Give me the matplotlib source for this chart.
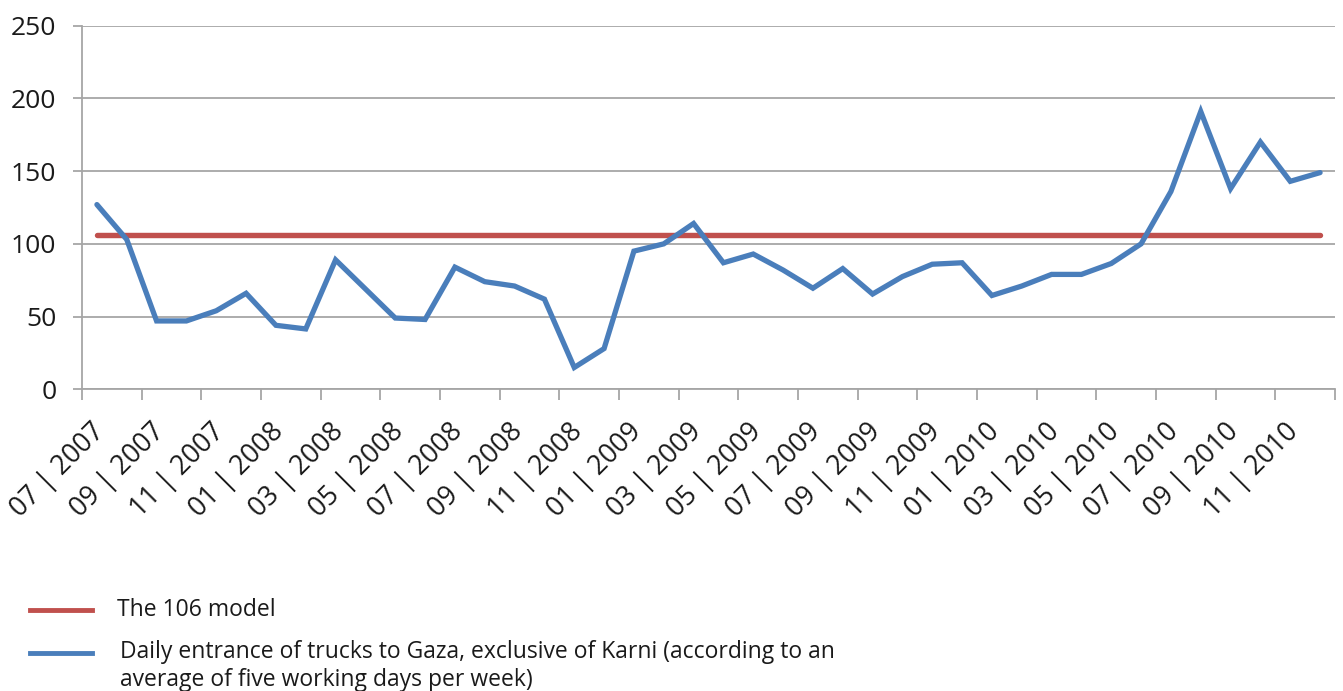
import matplotlib
matplotlib.use("Agg")
import matplotlib.pyplot as plt
import matplotlib.transforms as mtransforms
from matplotlib.lines import Line2D

plt.rcParams['font.family'] = ['Open Sans', 'DejaVu Sans']

months = ["07 | 2007", "08 | 2007", "09 | 2007", "10 | 2007", "11 | 2007", "12 | 2007",
          "01 | 2008", "02 | 2008", "03 | 2008", "04 | 2008", "05 | 2008", "06 | 2008",
          "07 | 2008", "08 | 2008", "09 | 2008", "10 | 2008", "11 | 2008", "12 | 2008",
          "01 | 2009", "02 | 2009", "03 | 2009", "04 | 2009", "05 | 2009", "06 | 2009",
          "07 | 2009", "08 | 2009", "09 | 2009", "10 | 2009", "11 | 2009", "12 | 2009",
          "01 | 2010", "02 | 2010", "03 | 2010", "04 | 2010", "05 | 2010", "06 | 2010",
          "07 | 2010", "08 | 2010", "09 | 2010", "10 | 2010", "11 | 2010", "12 | 2010"]

trucks = [127, 103, 47, 47, 54, 66, 44, 41.5, 89, 69, 49, 48,
          84, 74, 71, 62, 15, 28, 95, 100, 114, 87, 93, 82,
          69.5, 83, 65.5, 77.5, 86, 87, 64.5, 71, 79, 79, 86.5, 100,
          136, 191, 138, 170, 143, 149]

model_value = 106
model = [model_value] * len(months)

y_ticks = [0, 50, 100, 150, 200, 250]

model_label = "The 106 model"
trucks_label = ("Daily entrance of trucks to Gaza, exclusive of Karni (according to an\n"
                "average of five working days per week)")

blue = "#4A7EBB"
red = "#C0504D"
grid_c = "#A6A6A6"
text_c = "#1a1a1a"

W, H = 1343, 691
fig = plt.figure(figsize=(W / 100, H / 100), dpi=100)
ax = fig.add_axes([82 / W, (H - 389.3) / H, (1335 - 82) / W, (389.3 - 25.7) / H])

x = list(range(len(months)))
l_model, = ax.plot(x, model, color=red, lw=3.9, solid_capstyle='round', zorder=3)
l_trucks, = ax.plot(x, trucks, color=blue, lw=3.8, solid_capstyle='round',
                    solid_joinstyle='miter', zorder=4)

ax.set_xlim(-0.5, len(months) - 0.5)
ax.set_ylim(0, 250)
ax.set_yticks(y_ticks)
ax.set_yticklabels([str(v) for v in y_ticks])
ax.grid(axis='y', color=grid_c, lw=1.3, zorder=1)
ax.set_axisbelow(True)

for s in ['top', 'right']:
    ax.spines[s].set_visible(False)
for s in ['left', 'bottom']:
    ax.spines[s].set_color(grid_c)
    ax.spines[s].set_linewidth(1.3)

# major ticks: category boundaries every two months
ax.set_xticks([i - 0.5 for i in range(0, len(months) + 1, 2)])
ax.set_xticklabels([])
ax.tick_params(axis='x', which='major', length=8, width=1.3, color=grid_c)
# minor ticks: labels at category centers
ax.set_xticks(x[::2], minor=True)
ax.set_xticklabels(months[::2], minor=True, rotation=45, ha='right',
                   rotation_mode='anchor', fontsize=19.3, color=text_c)
ax.tick_params(axis='x', which='minor', length=0, pad=20.5)
ax.tick_params(axis='y', length=6.5, width=1.3, color=grid_c, labelsize=19,
               labelcolor=text_c, pad=12)

shift = mtransforms.ScaledTranslation(-6 / 100, 0, fig.dpi_scale_trans)
for lbl in ax.get_xticklabels(minor=True):
    lbl.set_va('top')
    lbl.set_transform(lbl.get_transform() + shift)

# legend (drawn in figure pixel coordinates)
def fx(px):
    return px / W

def fy(py):
    return 1 - py / H

for line, ypix in [(l_model, 610), (l_trucks, 653)]:
    fig.add_artist(Line2D([fx(30), fx(92)], [fy(ypix), fy(ypix)],
                          color=line.get_color(), lw=3.5, transform=fig.transFigure))
fig.text(fx(117), fy(610), model_label, fontsize=16.5, color=text_c,
         ha='left', va='center')
fig.text(fx(120), fy(640), trucks_label, fontsize=16.5, color=text_c,
         ha='left', va='top', linespacing=1.2)

fig.savefig("out.png", dpi=100)
